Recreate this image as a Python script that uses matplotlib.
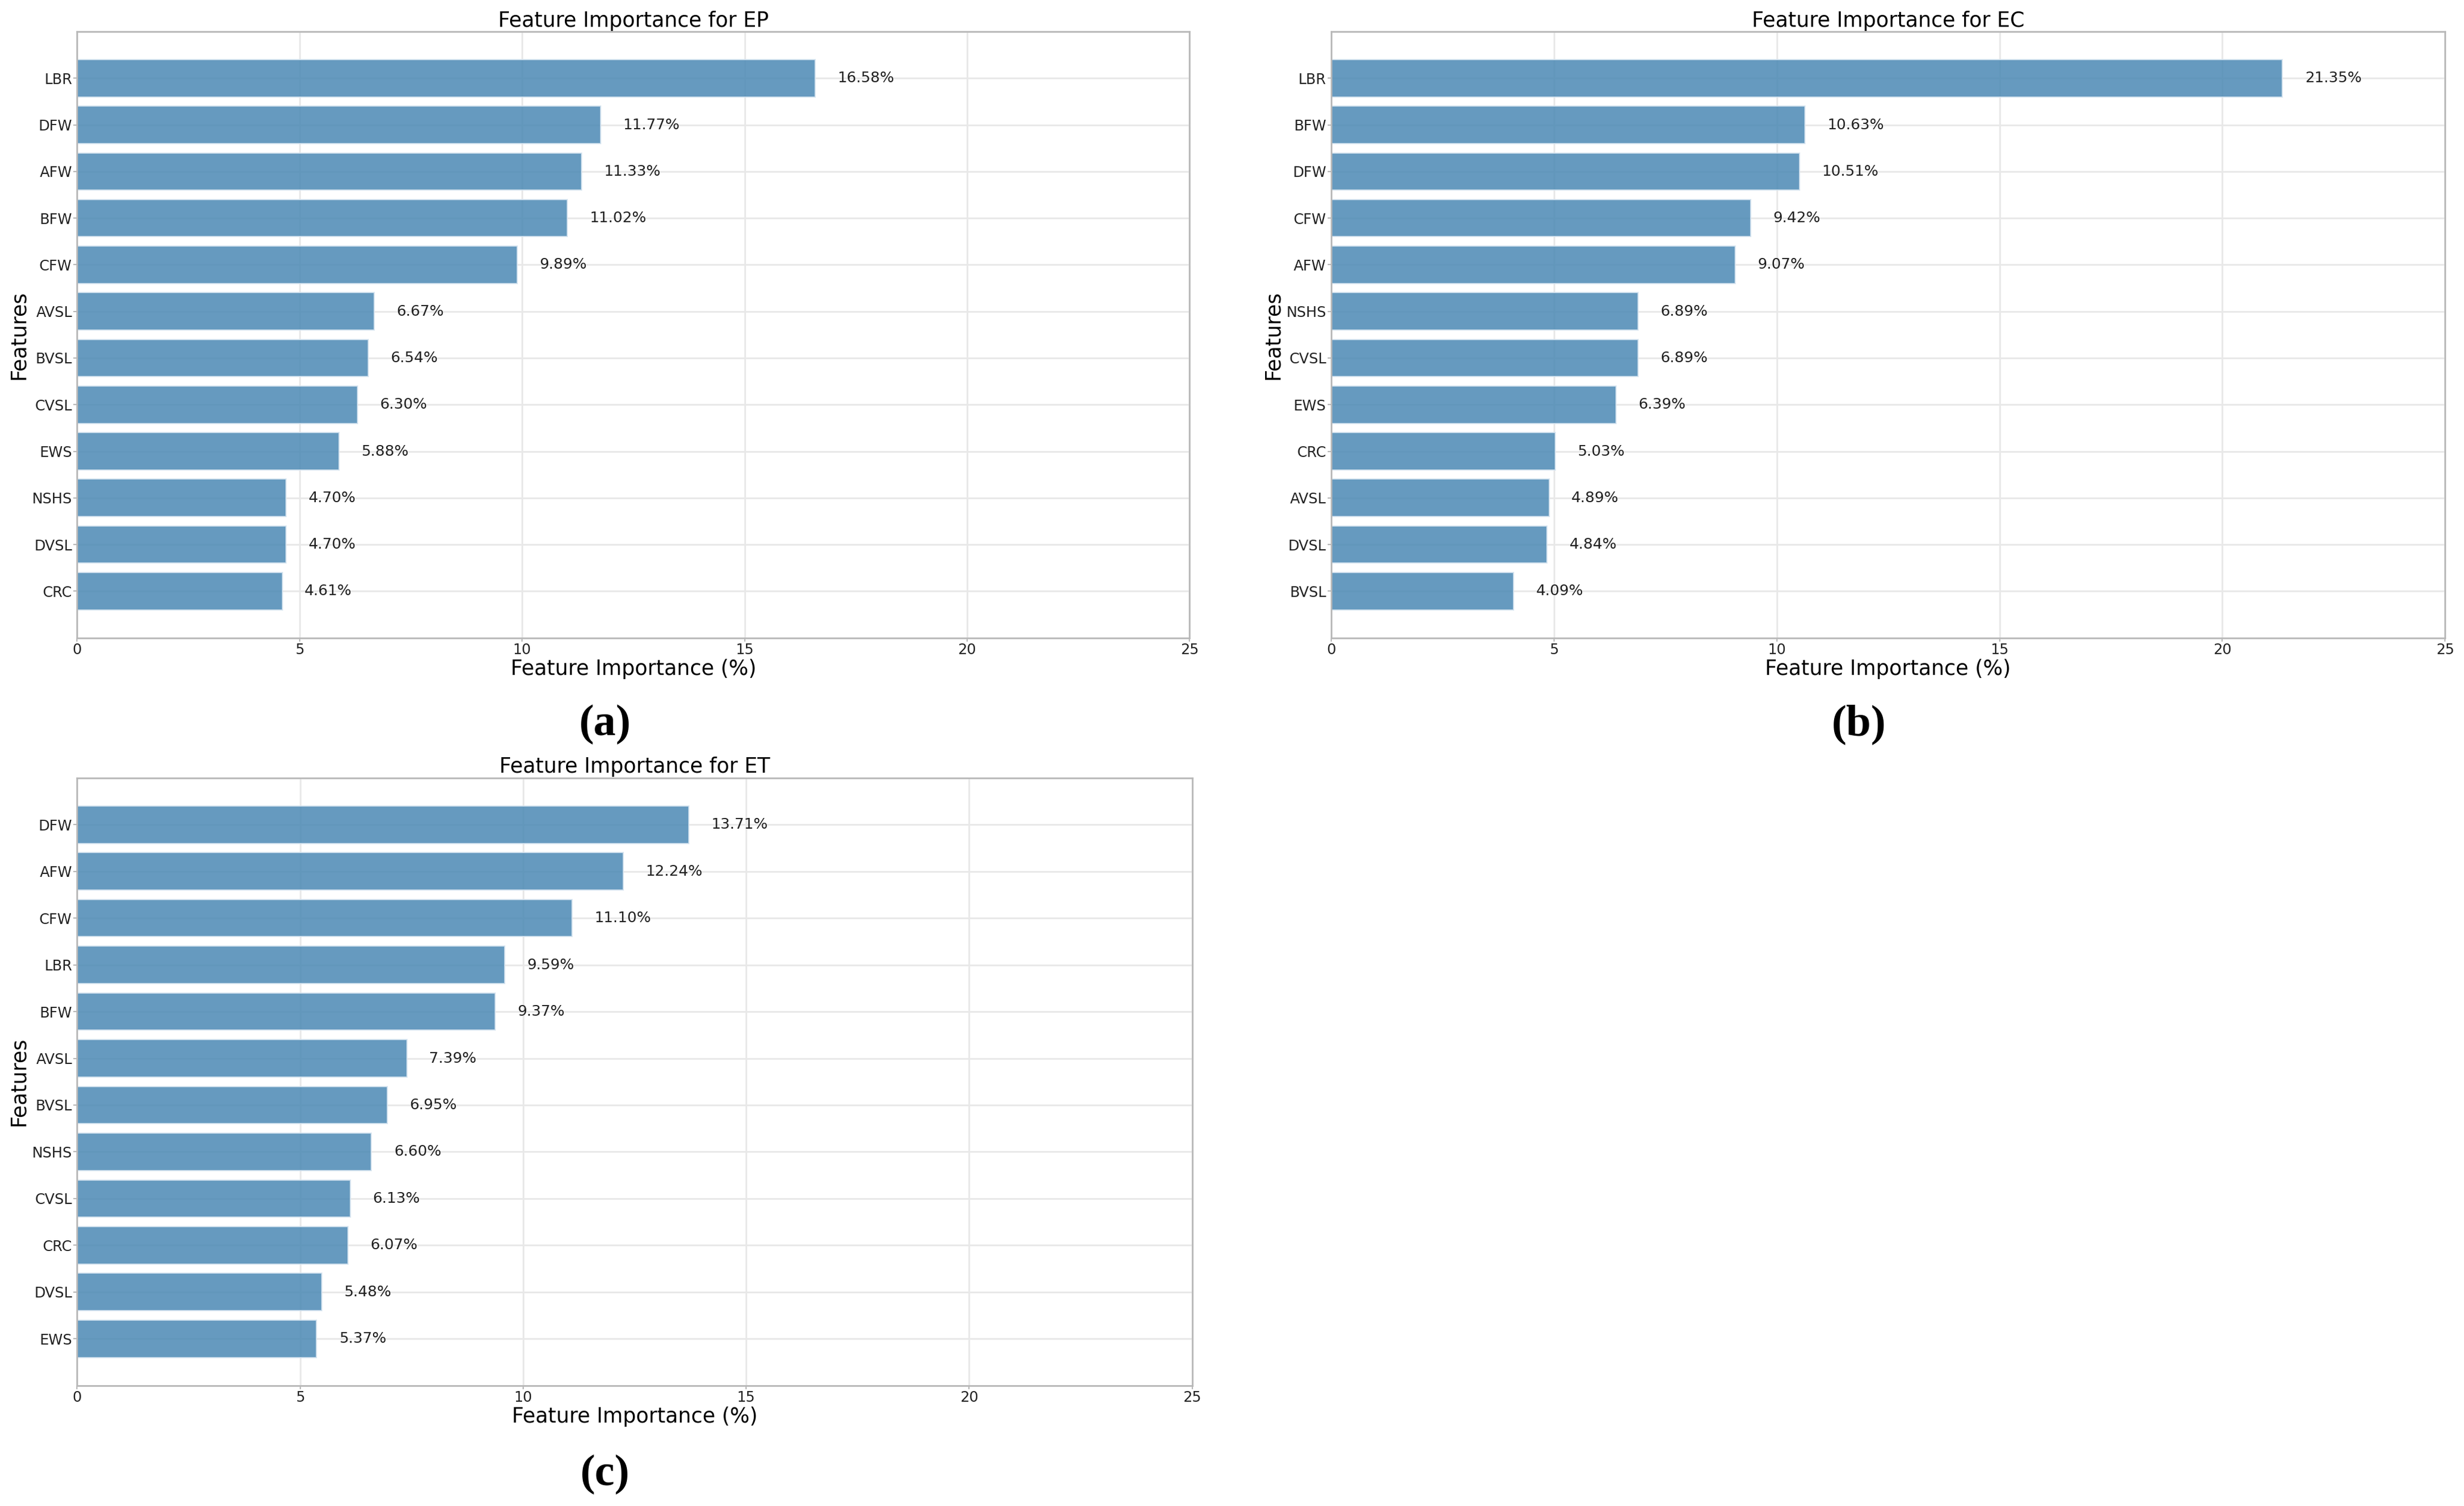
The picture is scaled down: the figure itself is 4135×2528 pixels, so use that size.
import numpy as np
import matplotlib
matplotlib.use('Agg')
import matplotlib.pyplot as plt

# Data (percent importance, top to bottom)
ep_features = ['LBR', 'DFW', 'AFW', 'BFW', 'CFW', 'AVSL', 'BVSL', 'CVSL', 'EWS', 'NSHS', 'DVSL', 'CRC']
ep_values = [16.58, 11.77, 11.33, 11.02, 9.89, 6.67, 6.54, 6.30, 5.88, 4.70, 4.70, 4.61]

ec_features = ['LBR', 'BFW', 'DFW', 'CFW', 'AFW', 'NSHS', 'CVSL', 'EWS', 'CRC', 'AVSL', 'DVSL', 'BVSL']
ec_values = [21.35, 10.63, 10.51, 9.42, 9.07, 6.89, 6.89, 6.39, 5.03, 4.89, 4.84, 4.09]

et_features = ['DFW', 'AFW', 'CFW', 'LBR', 'BFW', 'AVSL', 'BVSL', 'NSHS', 'CVSL', 'CRC', 'DVSL', 'EWS']
et_values = [13.71, 12.24, 11.10, 9.59, 9.37, 7.39, 6.95, 6.60, 6.13, 6.07, 5.48, 5.37]

x_ticks = [0, 5, 10, 15, 20, 25]

bar_color = '#4b89b4'
grid_color = '#e8e8e8'
spine_color = '#b8b8b8'


def draw_panel(ax, name, features, values):
    y = np.arange(len(features))
    ax.barh(y, values, height=0.8, color=bar_color, alpha=0.85,
            edgecolor='#d6e4f0', linewidth=1.5, zorder=2)
    for yi, v in zip(y, values):
        ax.text(v + 0.5, yi, f'{v:.2f}%', ha='left', va='center',
                fontsize=18, color='#222222', zorder=3)
    ax.set_yticks(y)
    ax.set_yticklabels(features)
    ax.set_ylim(len(features), -1)
    ax.set_xlim(0, 25)
    ax.set_xticks(x_ticks)
    ax.grid(True, color=grid_color, linewidth=2, zorder=0)
    ax.set_axisbelow(True)
    for s in ax.spines.values():
        s.set_color(spine_color)
        s.set_linewidth(2)
    ax.tick_params(axis='both', labelsize=17.5, length=4, width=1.5,
                   color=spine_color, pad=2, labelcolor='#222222')
    ax.set_title(f'Feature Importance for {name}', fontsize=25, pad=6)
    ax.set_xlabel('Feature Importance (%)', fontsize=25, labelpad=2)
    ax.set_ylabel('Features', fontsize=25, labelpad=4)


fig = plt.figure(figsize=(41.35, 25.28), dpi=100)

ax_a = fig.add_axes([0.0313, 0.5765, 0.4515, 0.4025])
ax_b = fig.add_axes([0.5403, 0.5765, 0.4520, 0.4025])
ax_c = fig.add_axes([0.0313, 0.0800, 0.4525, 0.4035])

draw_panel(ax_a, 'EP', ep_features, ep_values)
draw_panel(ax_b, 'EC', ec_features, ec_values)
draw_panel(ax_c, 'ET', et_features, et_values)

serif = ['Liberation Serif', 'DejaVu Serif']
fig.text(0.2455, 0.519, '(a)', ha='center', va='center', fontsize=54,
         fontweight='bold', family=serif)
fig.text(0.7545, 0.519, '(b)', ha='center', va='center', fontsize=54,
         fontweight='bold', family=serif)
fig.text(0.2455, 0.021, '(c)', ha='center', va='center', fontsize=54,
         fontweight='bold', family=serif)

fig.savefig('out.png', dpi=100, facecolor='white')
